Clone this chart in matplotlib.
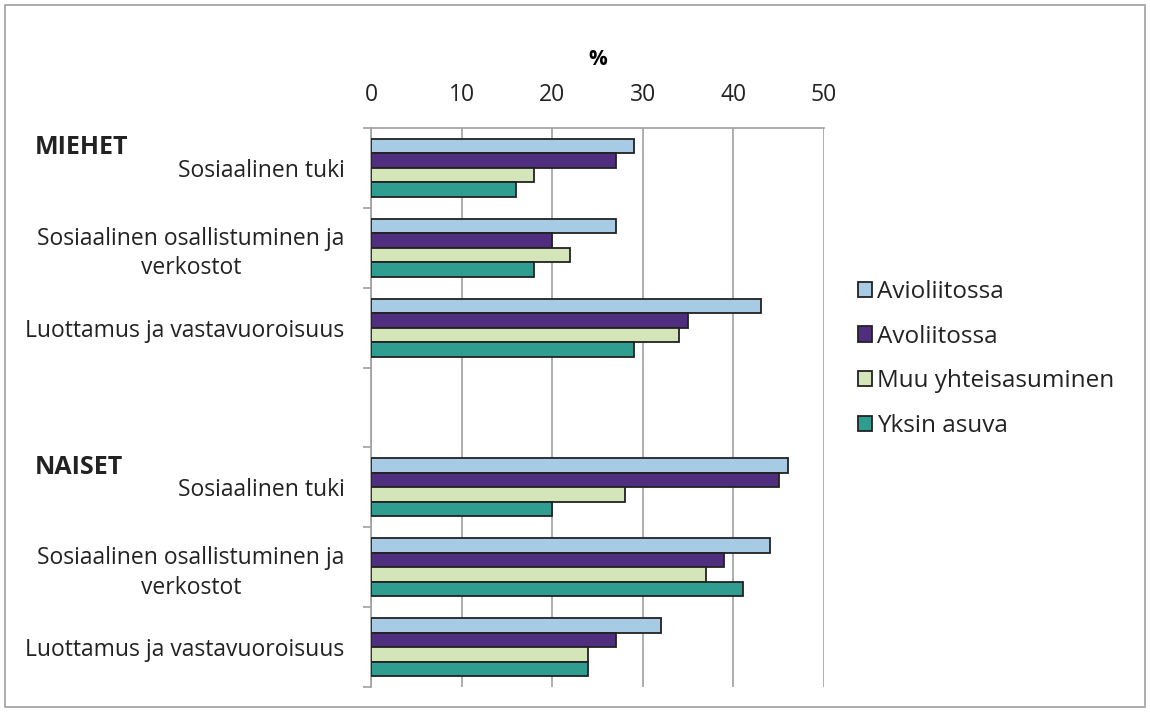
import numpy as np
import matplotlib.pyplot as plt
from matplotlib.patches import Rectangle

plt.rcParams['font.family'] = ['Open Sans', 'DejaVu Sans']

# data (percent)
categories = ['Sosiaalinen tuki', 'Sosiaalinen osallistuminen ja\nverkostot',
              'Luottamus ja vastavuoroisuus', '',
              'Sosiaalinen tuki', 'Sosiaalinen osallistuminen ja\nverkostot',
              'Luottamus ja vastavuoroisuus']
series_names = ['Avioliitossa', 'Avoliitossa', 'Muu yhteisasuminen', 'Yksin asuva']
avioliitossa = [29, 27, 43, np.nan, 46, 44, 32]
avoliitossa = [27, 20, 35, np.nan, 45, 39, 27]
muu_yhteis = [18, 22, 34, np.nan, 28, 37, 24]
yksin_asuva = [16, 18, 29, np.nan, 20, 41, 24]
colors = ['#A7CBE5', '#4F2D7F', '#D5E5BA', '#2F9E90']

fig = plt.figure(figsize=(11.5, 7.13), dpi=100)
ax = fig.add_axes([0.3226, 0.0365, 0.394, 0.784])

y = np.arange(len(categories))
h = 0.181
for i, (vals, name, c) in enumerate(zip([avioliitossa, avoliitossa, muu_yhteis, yksin_asuva],
                                        series_names, colors)):
    ax.barh(y + (i - 1.5) * h, vals, height=h, color=c, edgecolor='#222222',
            linewidth=1.3, label=name, zorder=3)

ax.set_xlim(0, 50)
ax.set_ylim(6.5, -0.5)
ax.set_xticks(np.arange(0, 51, 10))
ax.xaxis.tick_top()
ax.xaxis.set_label_position('top')
ax.set_xlabel('%', fontweight='bold', fontsize=15, labelpad=13)
ax.tick_params(axis='x', length=0, pad=15, labelsize=16.5, colors='#222222')
ax.grid(axis='x', color='#A0A0A0', linewidth=1.2, zorder=0)

ax.set_yticks(y)
ax.set_yticklabels(categories)
ax.tick_params(axis='y', length=0, pad=19, labelsize=16.5, labelcolor='#222222')
for lab in ax.get_yticklabels():
    lab.set_multialignment('center')
    lab.set_linespacing(1.3)
ax.set_yticks(np.arange(-0.5, 7, 1), minor=True)
ax.tick_params(axis='y', which='minor', length=6, color='#A0A0A0', width=1.2)

for s in ['right', 'bottom']:
    ax.spines[s].set_visible(False)
for s in ['left', 'top']:
    ax.spines[s].set_color('#A0A0A0')
    ax.spines[s].set_linewidth(1.2)

fig.text(35 / 1150, 1 - 147 / 713, 'MIEHET', fontweight='bold', fontsize=18,
         va='center', ha='left', color='#222222')
fig.text(35 / 1150, 1 - 468 / 713, 'NAISET', fontweight='bold', fontsize=18,
         va='center', ha='left', color='#222222')

leg = ax.legend(loc='center left', bbox_to_anchor=(836 / 1150, 1 - 359 / 713),
                bbox_transform=fig.transFigure, frameon=False, fontsize=17.5,
                labelspacing=0.85, handlelength=0.6, handleheight=0.6,
                handletextpad=0.2)
for t in leg.get_texts():
    t.set_color('#222222')

fig.patches.append(Rectangle((5 / 1150, 6 / 713), 1140 / 1150, 702 / 713,
                             transform=fig.transFigure, fill=False,
                             edgecolor='#A0A0A0', linewidth=1.2))

fig.savefig('out.png', dpi=100)
